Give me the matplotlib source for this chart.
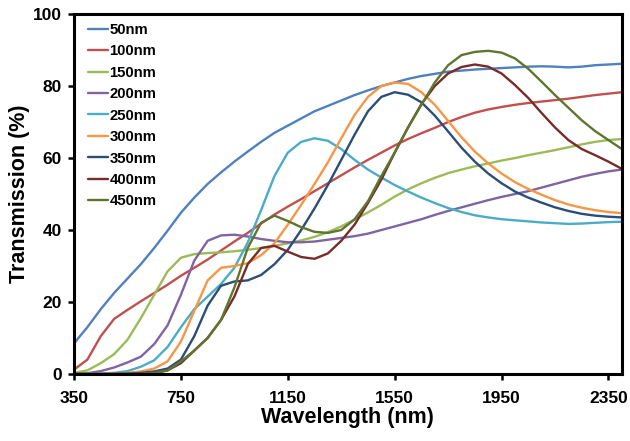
import matplotlib
matplotlib.use("Agg")
import matplotlib.pyplot as plt

plt.rcParams['font.family'] = ['Liberation Sans', 'DejaVu Sans']
plt.rcParams['font.weight'] = 'bold'

# Wavelength grid (nm)
wavelength = list(range(350, 2401, 50))

t_50nm = [8.5, 13, 18, 22.5, 26.5, 30.5, 35, 39.8, 44.8, 49, 52.8, 56, 59, 61.8, 64.5, 67, 69, 71,
          73, 74.5, 76, 77.5, 78.8, 80, 81, 82, 82.8, 83.4, 84, 84.3, 84.6, 84.8, 85, 85.2, 85.4,
          85.5, 85.4, 85.2, 85.4, 85.8, 86, 86.2]
t_100nm = [1.2, 4, 10.5, 15.3, 17.8, 20.2, 22.5, 24.8, 27.3, 29.5, 31.8, 34.3, 36.8, 39.2, 41.8,
           44.3, 46.5, 48.6, 50.8, 53, 55.2, 57.4, 59.5, 61.5, 63.5, 65.3, 66.9, 68.4, 70, 71.4,
           72.6, 73.5, 74.2, 74.8, 75.3, 75.7, 76.1, 76.5, 77, 77.5, 77.9, 78.3]
t_150nm = [0.3, 1, 3, 5.5, 9.5, 15.5, 22, 28.5, 32.3, 33.3, 33.6, 33.8, 34.1, 34.5, 35, 35.6, 36.3,
           37.1, 38.1, 39.4, 41, 42.9, 44.9, 47, 49.3, 51.3, 53, 54.5, 55.8, 56.8, 57.7, 58.5, 59.3,
           60, 60.8, 61.5, 62.2, 63, 63.8, 64.5, 65, 65.3]
t_200nm = [0, 0.2, 0.8, 1.8, 3.2, 4.8, 8.3, 13.5, 22, 31.5, 37, 38.5, 38.7, 38.2, 37.5, 37, 36.6,
           36.6, 36.8, 37.3, 37.8, 38.3, 39, 40, 41, 42, 43, 44.2, 45.3, 46.3, 47.3, 48.3, 49.2, 50,
           50.8, 51.8, 52.8, 53.8, 54.8, 55.6, 56.3, 56.8]
t_250nm = [0, 0, 0.1, 0.3, 0.8, 2, 3.8, 7.5, 13, 18, 21.5, 25, 29.5, 36.5, 45.5, 55, 61.5, 64.5,
           65.5, 64.8, 62.5, 59.5, 56.8, 54.6, 52.5, 50.7, 49, 47.5, 46.1, 45, 44.1, 43.5, 43, 42.7,
           42.4, 42.1, 41.9, 41.7, 41.8, 42, 42.2, 42.3]
t_300nm = [0, 0, 0, 0.1, 0.3, 0.7, 1.5, 3.5, 9, 17.5, 26, 29.5, 30, 30.8, 33, 36.3, 41.5, 47, 52.8,
           58.8, 65.5, 72, 77, 80, 81, 80.6, 78.3, 74.8, 70.3, 65.8, 61.8, 58.5, 55.7, 53.3, 51.4,
           49.8, 48.3, 47.1, 46.2, 45.5, 45, 44.7]
t_350nm = [0, 0, 0, 0, 0.1, 0.3, 0.7, 1.5, 4, 10.5, 19, 24.5, 25.7, 26, 27.5, 30.5, 34.5, 40, 46,
           52.5, 59.5, 66.5, 73, 77, 78.3, 77.6, 75.5, 71.8, 67.4, 62.9, 59, 55.7, 53, 50.7, 49,
           47.6, 46.3, 45.3, 44.5, 44, 43.7, 43.5]
t_400nm = [0, 0, 0, 0, 0, 0, 0.2, 1, 3, 6.5, 10, 15, 21.5, 30.5, 35, 35.6, 34, 32.5, 32, 33.5, 37,
           41.5, 47.5, 54, 61.5, 68.5, 75, 80, 83.5, 85.3, 86, 85.4, 83.5, 80.3, 76.7, 72.5, 68.5,
           65, 62.5, 60.8, 59, 57]
t_450nm = [0, 0, 0, 0, 0, 0, 0.3, 1, 3.5, 6.5, 10, 15, 24, 35, 42, 44, 42.5, 40.8, 39.5, 39.2, 40,
           43, 48, 55, 61.5, 68.5, 74.8, 81, 85.8, 88.6, 89.5, 89.8, 89.3, 87.7, 84.8, 81.2, 77.5,
           74, 70.5, 67.5, 65, 62.5]

labels = ['50nm', '100nm', '150nm', '200nm', '250nm', '300nm', '350nm', '400nm', '450nm']
series = [t_50nm, t_100nm, t_150nm, t_200nm, t_250nm, t_300nm, t_350nm, t_400nm, t_450nm]
colors = ['#4F81BD', '#C0504D', '#9BBB59', '#8064A2', '#4BACC6', '#F79646',
          '#2C4D75', '#772C2A', '#5F7530']

x_ticks = [350, 750, 1150, 1550, 1950, 2350]
y_ticks = [0, 20, 40, 60, 80, 100]

fig = plt.figure(figsize=(6.3, 4.41), dpi=100)
ax = fig.add_axes([0.1175, 0.152, 0.8695, 0.816])

for vals, lab, col in zip(series, labels, colors):
    ax.plot(wavelength, vals, color=col, lw=1.7, label=lab,
            solid_joinstyle='round', solid_capstyle='round')

ax.set_xlim(350, 2400)
ax.set_ylim(0, 100)
ax.set_xticks(x_ticks)
ax.set_yticks(y_ticks)
for s in ax.spines.values():
    s.set_linewidth(2.2)
    s.set_color('black')
ax.tick_params(direction='out', length=4, width=1.8, labelsize=12.5)
ax.tick_params(axis='x', pad=8)
ax.tick_params(axis='y', pad=5)
for t in ax.get_xticklabels() + ax.get_yticklabels():
    t.set_fontweight('bold')

ax.set_xlabel('Wavelength (nm)', fontsize=15.5, fontweight='bold', labelpad=1)
ax.set_ylabel('Transmission (%)', fontsize=15.5, fontweight='bold', labelpad=2)

ax.legend(loc='upper left', bbox_to_anchor=(0.015, 0.992), borderaxespad=0,
          frameon=False, handlelength=1.35, handletextpad=0.08, labelspacing=0.5,
          prop={'weight': 'bold', 'size': 10.7})

fig.savefig('out.png', dpi=100)
